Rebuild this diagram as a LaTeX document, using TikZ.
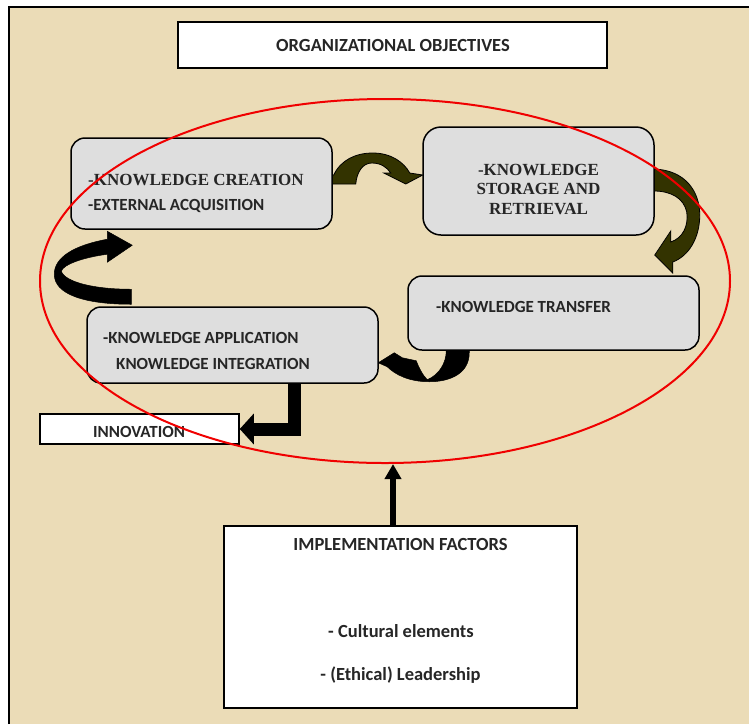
\documentclass[tikz,border=0pt]{standalone}
\usepackage{fontspec}
\setmainfont{Carlito}
\newfontfamily\serifface{Liberation Serif}
\usetikzlibrary{arrows.meta,shapes.geometric,calc}

\definecolor{parchment}{HTML}{EBDCB7}
\definecolor{boxgray}{HTML}{DEDEDE}
\definecolor{arrowolive}{HTML}{333300}
\definecolor{inktext}{HTML}{262626}
\definecolor{ringred}{HTML}{F00000}

\pgfdeclarelayer{sheet}
\pgfdeclarelayer{arrowlayer}
\pgfsetlayers{sheet,arrowlayer,main}

\tikzset{
  kbox/.style={draw=black, line width=1.5pt, fill=boxgray, rounded corners=14pt, inner sep=0pt},
  wbox/.style={draw=black, line width=1.5pt, fill=white, inner sep=0pt},
  ctext/.style={font=\fontsize{17}{20}\selectfont\bfseries, text=inktext, inner sep=0pt},
  bigtext/.style={font=\fontsize{18.5}{22}\selectfont\bfseries, text=inktext, inner sep=0pt},
  stext/.style={font=\serifface\fontsize{17}{19.5}\selectfont\bfseries, text=inktext, inner sep=0pt},
  olivearrow/.style={fill=arrowolive, draw=black, line width=0.8pt, line join=miter},
  blackarrow/.style={fill=black, draw=black, line width=0.5pt},
}

\begin{document}
\begin{tikzpicture}[x=1pt,y=-1pt]
\useasboundingbox (0,0) rectangle (749,724);

% sheet and frame
\begin{pgfonlayer}{sheet}
  \fill[white] (0,0) rectangle (749,724);
  \fill[parchment] (9,7) rectangle (749,724);
  \draw[line width=2pt] (9,724) -- (9,7) -- (749,7);
\end{pgfonlayer}

% boxes
\node[wbox, minimum width=429pt, minimum height=46pt] (org) at (392.5,45) {};
\node[kbox, minimum width=261pt, minimum height=91pt] (create) at (201.5,183.5) {};
\node[kbox, rounded corners=18pt, minimum width=231pt, minimum height=108pt] (store) at (538.5,181) {};
\node[kbox, minimum width=291pt, minimum height=74pt] (transfer) at (553.5,313) {};
\node[kbox, minimum width=291pt, minimum height=76pt] (app) at (232.5,345) {};
\node[wbox, minimum width=199pt, minimum height=30pt] (inn) at (139.5,429) {};
\node[wbox, minimum width=353pt, minimum height=182pt] (impl) at (400.5,617) {};

% texts
\node[bigtext, anchor=base] (orgtext) at (393,51) {ORGANIZATIONAL OBJECTIVES};
\node[stext, anchor=base west] (kc) at (88,185) {-KNOWLEDGE CREATION};
\node[ctext, anchor=base west] (ea) at (88,210) {-EXTERNAL ACQUISITION};
\node[stext, align=center] (ksr) at (538.5,189) {-KNOWLEDGE\\STORAGE AND\\RETRIEVAL};
\node[ctext, anchor=base west] (kt) at (436,312) {-KNOWLEDGE TRANSFER};
\node[ctext, anchor=base west] (ka) at (103,343) {-KNOWLEDGE APPLICATION};
\node[ctext, anchor=base west] (ki) at (116,369) {KNOWLEDGE INTEGRATION};
\node[ctext, anchor=base west] (inntext) at (93,437) {INNOVATION};
\node[bigtext, anchor=base] (impltext) at (400.5,550) {IMPLEMENTATION FACTORS};
\node[bigtext, anchor=base] (cult) at (401,637) {- Cultural elements};
\node[bigtext, anchor=base] (lead) at (400.5,680) {- (Ethical) Leadership};

% the knowledge cycle
\node[draw=ringred, line width=2pt, ellipse, inner sep=0pt,
      minimum width=690pt, minimum height=364pt] (ring) at (385,281) {};

\begin{pgfonlayer}{arrowlayer}
  % creation -> storage
  \begin{scope}[shift={(create.east)}]
    \path[olivearrow] (-7,0.5) -- (-7,-8.5) -- (1,-8.5)
      .. controls (8,-23.5) and (23,-30.5) .. (40,-30.5)
      .. controls (58,-30.5) and (71,-21.5) .. (77,-10.5)
      -- (90,-8.5) -- (73,0.5) -- (51,-10.5) -- (58,-10.5)
      .. controls (54,-16.5) and (48,-20.5) .. (39,-20.5)
      .. controls (30,-20.5) and (24,-11.5) .. (23,0.5) -- cycle;
  \end{scope}
  % storage -> transfer
  \begin{scope}[shift={(store.east)}]
    \path[olivearrow] (-9,-12) -- (-1,-12)
      .. controls (31,-11) and (45,11) .. (45,34)
      .. controls (45,57) and (34,75) .. (18,81)
      -- (18,92) -- (0,74) -- (16,50) -- (16,61)
      .. controls (28,57) and (34,45) .. (32,31)
      .. controls (29,17) and (16,10) .. (-1,10)
      -- (-9,10) -- cycle;
  \end{scope}
  % transfer -> application
  \begin{scope}[shift={(transfer.south west)}]
    \path[blackarrow] (62,-8) -- (62,2)
      .. controls (62,22) and (44,31) .. (22,31)
      .. controls (2,31) and (-12,24) .. (-20,16)
      -- (-29,12) -- (-13,2) -- (-5,7) -- (9,10)
      .. controls (12,18) and (16,25) .. (20,29)
      .. controls (32,24) and (39,12) .. (39,0)
      -- (39,-8) -- cycle;
  \end{scope}
  % application -> creation
  \begin{scope}[shift={(app.north west)}]
    \path[blackarrow] (45,-2)
      .. controls (-2,-2) and (-32,-12) .. (-32,-32)
      .. controls (-32,-49) and (-12,-61) .. (21,-67)
      -- (21,-75) -- (46,-61) -- (21,-44) -- (21,-52)
      .. controls (-2,-49) and (-23,-42) .. (-25,-35)
      .. controls (-21,-24) and (8,-17) .. (45,-17) -- cycle;
  \end{scope}
  % application -> innovation
  \draw[line width=13pt, -{Triangle[width=30pt,length=14pt]}]
    ([xshift=62pt]app.south) |- (inn.east);
  % implementation factors -> cycle
  \coordinate (upfoot) at ([xshift=-7.5pt]impl.north);
  \draw[line width=6pt, -{Triangle[width=16pt,length=15pt]}]
    (upfoot) -- (upfoot |- ring.south);
\end{pgfonlayer}
\end{tikzpicture}
\end{document}
